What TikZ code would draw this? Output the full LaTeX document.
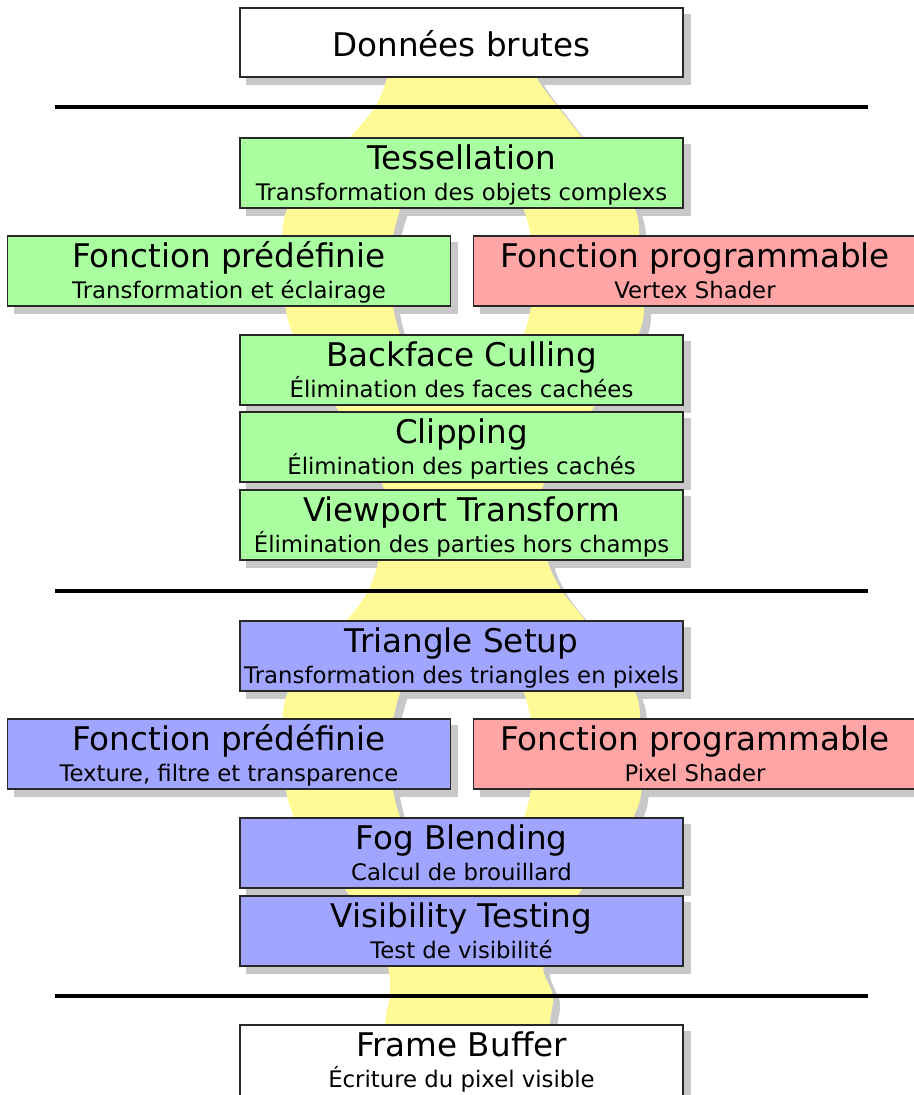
\documentclass[tikz,border=0pt]{standalone}
\usepackage{fontspec}
\setmainfont{DejaVu Sans}
\definecolor{shadowgray}{RGB}{200,200,200}
\definecolor{bandyellow}{RGB}{255,250,150}
\definecolor{stagegreen}{RGB}{170,255,160}
\definecolor{stageblue}{RGB}{160,166,255}
\definecolor{stagered}{RGB}{255,165,165}
\definecolor{boxline}{RGB}{40,40,40}
\pgfdeclarelayer{shadowlayer}
\pgfdeclarelayer{bandlayer}
\pgfsetlayers{shadowlayer,bandlayer,main}
\newcommand\mystage[6]{%
  \node[stagebox, fill=#4] (#1) at (#2,#3+35) {};
  \node[titletext] (#1-t) at (#2,#3+31.5) {#5};
  \node[subtext] (#1-s) at (#2,#3+62.5) {#6};
}
\begin{document}
\begin{tikzpicture}[x=1pt,y=-1pt,
  stagebox/.style={draw=boxline, line width=1.4pt, minimum width=443pt, minimum height=70pt, inner sep=0pt},
  titletext/.style={anchor=base, inner sep=0pt, font=\fontsize{32.6}{36}\selectfont},
  subtext/.style={anchor=base, inner sep=0pt, font=\fontsize{22.8}{26}\selectfont},
  sepline/.style={line width=4.5pt, black}]
\useasboundingbox (0,0) rectangle (913,1095);

% boxes
\node[stagebox, fill=white, minimum height=69pt] (don) at (461.5,42.5) {};
\node[titletext] (don-t) at (461.5,56) {Données brutes};
\mystage{tess}{461.5}{138}{stagegreen}{Tessellation}{Transformation des objets complexs}
\mystage{fpa}{229}{236}{stagegreen}{Fonction prédéfinie}{Transformation et éclairage}
\mystage{fpb}{695}{236}{stagered}{Fonction programmable}{Vertex Shader}
\mystage{back}{461.5}{335}{stagegreen}{Backface Culling}{Élimination des faces cachées}
\mystage{clip}{461.5}{412}{stagegreen}{Clipping}{Élimination des parties cachés}
\mystage{view}{461.5}{490}{stagegreen}{Viewport Transform}{Élimination des parties hors champs}
\mystage{tri}{461.5}{621}{stageblue}{Triangle Setup}{Transformation des triangles en pixels}
\mystage{fpc}{229}{719}{stageblue}{Fonction prédéfinie}{Texture, filtre et transparence}
\mystage{fpd}{695}{719}{stagered}{Fonction programmable}{Pixel Shader}
\mystage{fog}{461.5}{818}{stageblue}{Fog Blending}{Calcul de brouillard}
\mystage{vis}{461.5}{896}{stageblue}{Visibility Testing}{Test de visibilité}
\node[stagebox, fill=white, minimum height=80pt] (fb) at (461.5,1065) {};
\node[titletext] (fb-t) at (461.5,1056.5) {Frame Buffer};
\node[subtext] (fb-s) at (461.5,1087.5) {Écriture du pixel visible};

% separator lines
\coordinate (sa1) at (55,107); \coordinate (sa2) at (868,107);
\coordinate (sb1) at (55,591); \coordinate (sb2) at (868,591);
\coordinate (sc1) at (55,996); \coordinate (sc2) at (868,996);
\draw[sepline] (sa1) -- (sa2);
\draw[sepline] (sb1) -- (sb2);
\draw[sepline] (sc1) -- (sc2);

% box shadows
\begin{pgfonlayer}{shadowlayer}
\foreach \n in {don,tess,fpa,fpb,back,clip,view,tri,fpc,fpd,fog,vis,fb}
  \fill[shadowgray] ([shift={(7,7)}]\n.north west) rectangle ([shift={(7,7)}]\n.south east);
\end{pgfonlayer}

% yellow band with its shadow
\begin{pgfonlayer}{bandlayer}
\begin{scope}[shift={(7,7)}]
\fill[shadowgray, even odd rule]
  plot[smooth, tension=0.55] coordinates {(392,50) (387,78) (375,107) (350,137) (310,175) (285,215) (283,270) (288,320) (310,370) (345,420) (383,486) (380,530) (378,562) (368,591) (347,620) (310,660) (285,700) (284,755) (288,800) (310,850) (347,892) (375,935) (388,967) (390,996) (385,1025) (383,1110)}
  -- plot[smooth, tension=0.55] coordinates {(548,1110) (550,1025) (553,996) (543,967) (555,935) (580,892) (615,850) (640,800) (640,755) (638,700) (615,660) (585,620) (562,591) (548,562) (545,530) (543,486) (585,420) (620,370) (643,320) (640,270) (637,215) (615,175) (582,137) (558,107) (537,78) (530,50)}
  -- cycle
  (462,272) ellipse [x radius=72pt, y radius=122pt]
  (462,755) ellipse [x radius=72pt, y radius=122pt];
\end{scope}
\fill[bandyellow, even odd rule]
  plot[smooth, tension=0.55] coordinates {(392,50) (387,78) (375,107) (350,137) (310,175) (285,215) (283,270) (288,320) (310,370) (345,420) (383,486) (380,530) (378,562) (368,591) (347,620) (310,660) (285,700) (284,755) (288,800) (310,850) (347,892) (375,935) (388,967) (390,996) (385,1025) (383,1110)}
  -- plot[smooth, tension=0.55] coordinates {(548,1110) (550,1025) (553,996) (543,967) (555,935) (580,892) (615,850) (640,800) (640,755) (638,700) (615,660) (585,620) (562,591) (548,562) (545,530) (543,486) (585,420) (620,370) (643,320) (640,270) (637,215) (615,175) (582,137) (558,107) (537,78) (530,50)}
  -- cycle
  (462,272) ellipse [x radius=72pt, y radius=122pt]
  (462,755) ellipse [x radius=72pt, y radius=122pt];
\end{pgfonlayer}
\end{tikzpicture}
\end{document}
